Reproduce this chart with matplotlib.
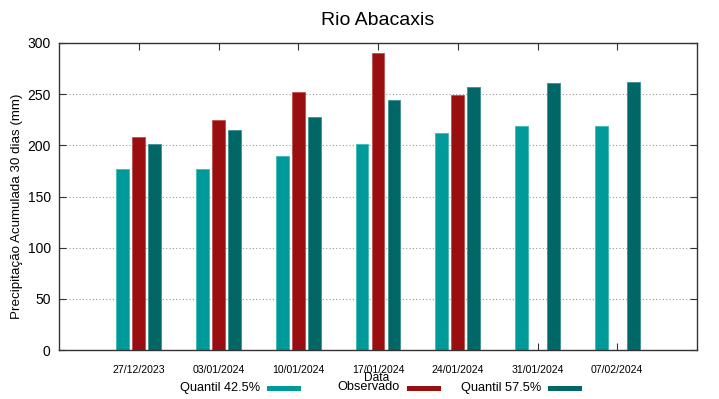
import matplotlib
matplotlib.use("Agg")
import matplotlib.pyplot as plt
import matplotlib.transforms as mtransforms
from matplotlib.patches import Rectangle
import numpy as np

# dados
datas = ["27/12/2023", "03/01/2024", "10/01/2024", "17/01/2024",
         "24/01/2024", "31/01/2024", "07/02/2024"]
quantil_425 = [177, 177, 190, 201, 212, 219, 219]
observado = [208, 225, 252, 290, 249, np.nan, np.nan]
quantil_575 = [201, 215, 228, 244, 257, 261, 262]

series = ["Quantil 42.5%", "Observado", "Quantil 57.5%"]
cores = ["#009a9a", "#990e0e", "#006666"]
bordas = ["#40b8b8", "#c05050", "#409090"]

plt.rcParams["font.family"] = ["Liberation Sans", "DejaVu Sans"]

W, H = 719, 399
fig = plt.figure(figsize=(W / 100, H / 100), dpi=100)
ax = fig.add_axes([59 / W, 1 - 350 / H, 638 / W, 307 / H])

x = np.arange(1, len(datas) + 1)
w = 0.16
for k, vals in enumerate([quantil_425, observado, quantil_575]):
    ax.bar(x + (k - 1) * 0.2, vals, w, color=cores[k], edgecolor=bordas[k], linewidth=0.6)

ax.set_xlim(0, 8)
ax.set_ylim(0, 300)
ax.set_xticks(x)
ax.set_xticklabels(datas, fontsize=7.6)
desloc = mtransforms.ScaledTranslation(6 / 100, 0, fig.dpi_scale_trans)
for lbl in ax.get_xticklabels():
    lbl.set_transform(lbl.get_transform() + desloc)
ax.set_yticks(range(0, 301, 50))
ax.tick_params(axis="y", labelsize=10, direction="in", right=True, length=5, pad=6, color="#333333")
ax.tick_params(axis="x", direction="in", top=True, length=5, pad=11, color="#333333")
ax.yaxis.grid(True, linestyle=(0, (1, 2)), color="#999999", linewidth=0.8)
ax.set_axisbelow(True)
for s in ax.spines.values():
    s.set_color("#333333")
    s.set_linewidth(1.0)

ax.set_title("Rio Abacaxis", fontsize=14, pad=13)
fig.text(17.5 / W, 1 - 206 / H, "Precipitação Acumulada 30 dias (mm)", fontsize=9.6,
         rotation=90, ha="center", va="center")
fig.text(377 / W, 1 - 378 / H, "Data", fontsize=8.6, ha="center", va="center")

# legenda horizontal (texto a esquerda, amostra a direita)
fim_texto = [260, 400, 541]
amostra_x = [267, 407, 548]
for k in range(3):
    fig.text(fim_texto[k] / W, 1 - 387.5 / H, series[k], fontsize=9.2, ha="right", va="center")
    fig.patches.append(Rectangle((amostra_x[k] / W, 1 - 391 / H), 34 / W, 5 / H,
                                 transform=fig.transFigure, facecolor=cores[k], edgecolor="none"))

fig.savefig("out.png", dpi=100)
